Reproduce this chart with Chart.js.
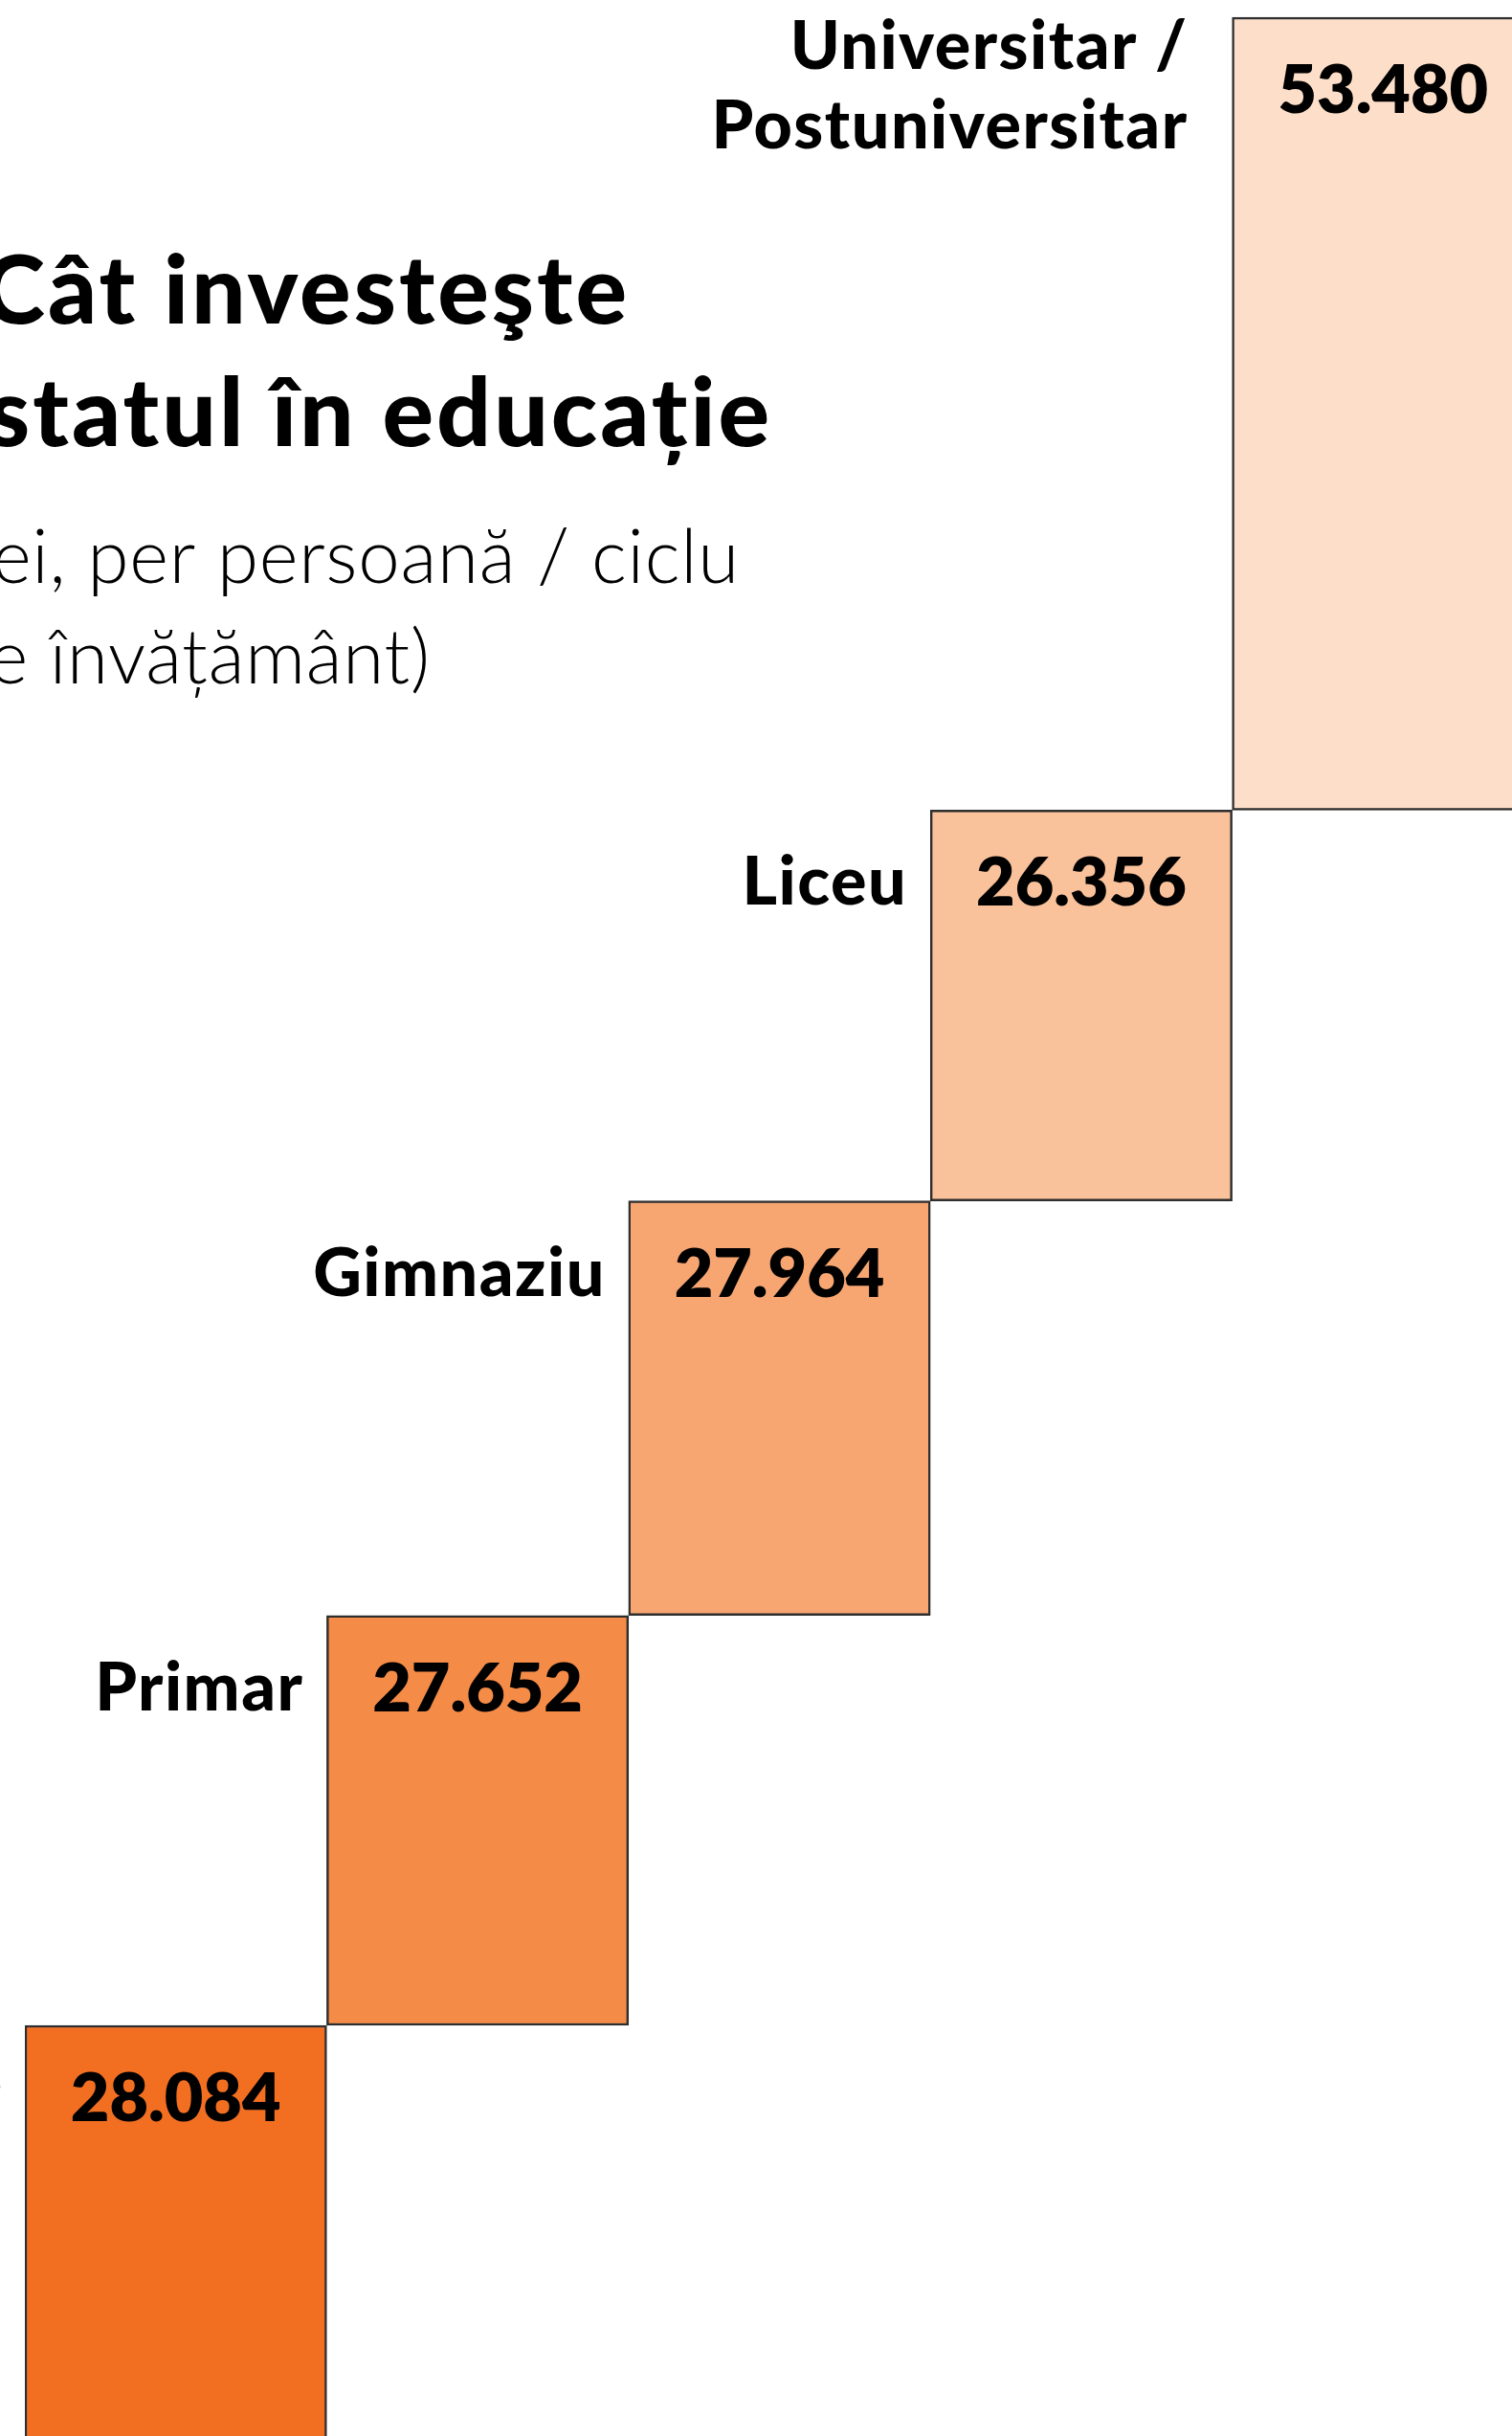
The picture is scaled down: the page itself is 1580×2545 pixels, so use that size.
<!DOCTYPE html>
<html lang="ro">
<head>
<meta charset="utf-8">
<title>Cât investeşte statul în educație</title>
<script src="https://cdn.jsdelivr.net/npm/chart.js@4"></script>
<style>
  html, body { margin: 0; padding: 0; background: #ffffff; overflow: hidden; }
  #wrap { position: absolute; left: 0; top: 0; width: 1700px; height: 2560px; }
</style>
</head>
<body>
<div id="wrap"><canvas id="trepteChart" width="1700" height="2560"></canvas></div>
<script>
// cicluri de invatamant si costul per persoana (lei)
var cicluri = ["Preşcolar", "Primar", "Gimnaziu", "Liceu", ["Universitar /", "Postuniversitar"]];
var costuri = [28084, 27652, 27964, 26356, 53480];
var culori = ["#F26F22", "#F48B47", "#F7A672", "#FAC29B", "#FDDFC9"];

var titlu = ["Cât investeşte", "statul în educație"];
var subtitlu = ["(lei, per persoană / ciclu", "de învățământ)"];

// fiecare treapta porneste de unde s-a oprit cea anterioara
var trepte = [];
var acc = 0;
costuri.forEach(function (v) {
  trepte.push([acc, acc + v]);
  acc += v;
});

function fmt(n) {
  return String(n).replace(/\B(?=(\d{3})+(?!\d))/g, ".");
}

var etichete = {
  id: "etichete",
  afterDatasetsDraw: function (chart) {
    var ctx = chart.ctx;
    var bars = chart.getDatasetMeta(0).data;
    ctx.save();
    ctx.fillStyle = "#000000";
    ctx.textBaseline = "alphabetic";

    // valori in interiorul treptelor
    ctx.font = "800 70px Lato";
    ctx.letterSpacing = "0px";
    ctx.textAlign = "center";
    bars.forEach(function (bar, i) {
      ctx.fillText(fmt(costuri[i]), bar.x, bar.y + 100);
    });

    // numele ciclurilor, la stanga fiecarei trepte
    ctx.font = "900 70px Lato";
    ctx.letterSpacing = "1.5px";
    ctx.textAlign = "right";
    bars.forEach(function (bar, i) {
      var lines = [].concat(cicluri[i]);
      var left = bar.x - bar.width / 2;
      if (lines.length > 1) {
        lines.forEach(function (t, k) {
          ctx.fillText(t, left - 46, bar.y + 54 + k * 83);
        });
      } else {
        ctx.fillText(lines[0], left - 24, bar.y + 99);
      }
    });

    // titlu si subtitlu (taiate in stanga, ca in original)
    ctx.font = "900 100px Lato";
    ctx.letterSpacing = "3px";
    ctx.fillText(titlu[0], 658, 338);
    ctx.fillText(titlu[1], 807, 466);
    ctx.font = "300 78px Lato";
    ctx.letterSpacing = "0.8px";
    ctx.fillText(subtitlu[0], 773, 609);
    ctx.fillText(subtitlu[1], 450, 714);
    ctx.restore();
  },
};

var ctx = document.getElementById("trepteChart").getContext("2d");

var myChart = new Chart(ctx, {
  type: "bar",
  data: {
    labels: cicluri,
    datasets: [
      {
        data: trepte,
        backgroundColor: culori,
        borderColor: "#2e2e2e", // contur inchis in jurul treptelor
        borderWidth: 2.5,
        borderSkipped: false,
        categoryPercentage: 1,
        barPercentage: 1,
      },
    ],
  },
  options: {
    responsive: false,
    animation: false,
    layout: {
      padding: { left: 26, right: 97, top: 0, bottom: 9 },
    },
    scales: {
      x: { display: false },
      y: { display: false, min: 0, max: 164700 },
    },
    plugins: {
      legend: { display: false },
      tooltip: { enabled: false },
    },
  },
  plugins: [etichete],
});
</script>
</body>
</html>
